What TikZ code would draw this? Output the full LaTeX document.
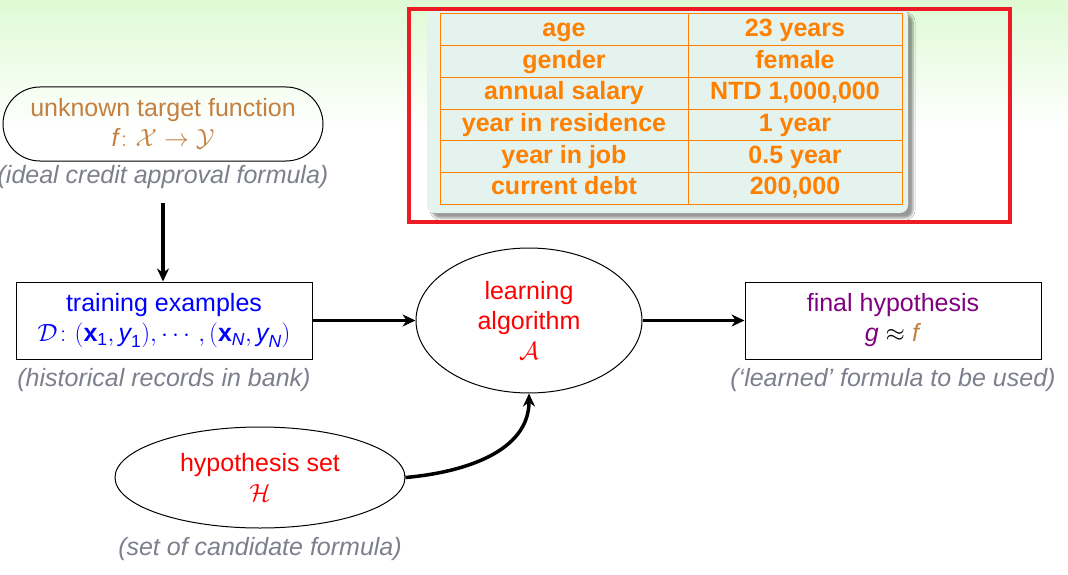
\documentclass[tikz,border=0pt]{standalone}
\usepackage{amsmath}
\usepackage{fontspec}
\setmainfont{Liberation Sans}
\setsansfont{Liberation Sans}
\usetikzlibrary{positioning,arrows.meta,shapes.geometric,shadows.blur}

\definecolor{targetbrown}{RGB}{196,128,64}
\definecolor{capgray}{RGB}{125,128,140}
\definecolor{tblorange}{RGB}{255,128,0}
\definecolor{tblfill}{RGB}{228,243,237}
\definecolor{framered}{RGB}{236,28,36}
\definecolor{hypopurple}{RGB}{128,0,128}
\definecolor{bgtop}{RGB}{222,250,212}

\begin{document}
\begin{tikzpicture}[x=1pt,y=-1pt,
  every node/.style={font=\fontsize{25}{30}\selectfont},
  box/.style={rectangle,draw,line width=1pt,minimum width=296pt,minimum height=77pt,align=center,inner sep=0pt},
  oval/.style={ellipse,draw,line width=1pt,align=center,inner sep=0pt},
  caption/.style={font=\fontsize{25}{30}\selectfont\itshape,text=capgray,inner sep=0pt},
  cell/.style={font=\fontsize{25}{30}\selectfont\bfseries,text=tblorange,text height=18pt,text depth=5pt,inner sep=0pt},
  arr/.style={-{Stealth[length=13pt,width=12pt]},line width=3.5pt}
]
% page and slide background
\fill[white] (0,0) rectangle (1068,575);
\shade[top color=bgtop,bottom color=white] (0,0) rectangle (1068,130);
\useasboundingbox (0,0) rectangle (1068,575);

% applicant profile
\fill[tblfill,rounded corners=8pt,blur shadow={shadow xshift=5pt,shadow yshift=-5pt}] (427,9) rectangle (908,213);
\draw[tblorange,line width=1pt] (440,14) rectangle (902,204);
\draw[tblorange,line width=1pt] (688,14) -- (688,204);
\foreach \i in {1,...,5}
  \draw[tblorange,line width=1pt] (440,{14+31.67*\i}) -- (902,{14+31.67*\i});
\foreach \key/\val [count=\i] in {age/23 years, gender/female, {annual salary}/{NTD 1,000,000},
    {year in residence}/1 year, {year in job}/0.5 year, {current debt}/{200,000}} {
  \node[cell] (key\i) at (564,{14+31.67*(\i-0.5)}) {\key};
  \node[cell] (val\i) at (795,{14+31.67*(\i-0.5)}) {\val};
}
\draw[framered,line width=4pt] (409,9) rectangle (1010,222);

% learning flow
\node[box, rounded corners=37pt, minimum width=320pt, minimum height=74pt, text=targetbrown] (target) at (163,124)
  {unknown target function\\ $\textit{f}\colon \mathcal{X}\to\mathcal{Y}$};
\node[box, text=blue] (train) at (164,320.5)
  {training examples\\ $\mathcal{D}\colon (\textbf{x}_{\textrm{1}}, \textit{y}_{\textrm{1}}), \cdots, (\textbf{x}_{\textit{N}}, \textit{y}_{\textit{N}})$};
\node[oval, right=103pt of train, minimum width=226pt, minimum height=145pt, text=red] (learn)
  {learning\\algorithm\\$\mathcal{A}$};
\node[box, right=102pt of learn, text=hypopurple] (final)
  {final hypothesis\\ \textit{g} \textcolor{black}{$\approx$} \textcolor{targetbrown}{\textit{f}}};
\node[oval, minimum width=290pt, minimum height=101pt, text=red] (hyp) at (260,477.5)
  {hypothesis set\\$\mathcal{H}$};

% captions
\node[caption, below=4pt of target] (targetcap) {(ideal credit approval formula)};
\node[caption, below=9pt of train] (traincap) {(historical records in bank)};
\node[caption, below=9pt of final] (finalcap) {(`learned' formula to be used)};
\node[caption, below=9pt of hyp] (hypcap) {(set of candidate formula)};

\draw[arr, shorten <=14pt] (targetcap.south) -- (targetcap.south |- train.north);
\draw[arr] (train) -- (learn);
\draw[arr] (learn) -- (final);
\draw[arr] (hyp.east) to[out=5,in=-90] (learn.south);
\end{tikzpicture}
\end{document}
